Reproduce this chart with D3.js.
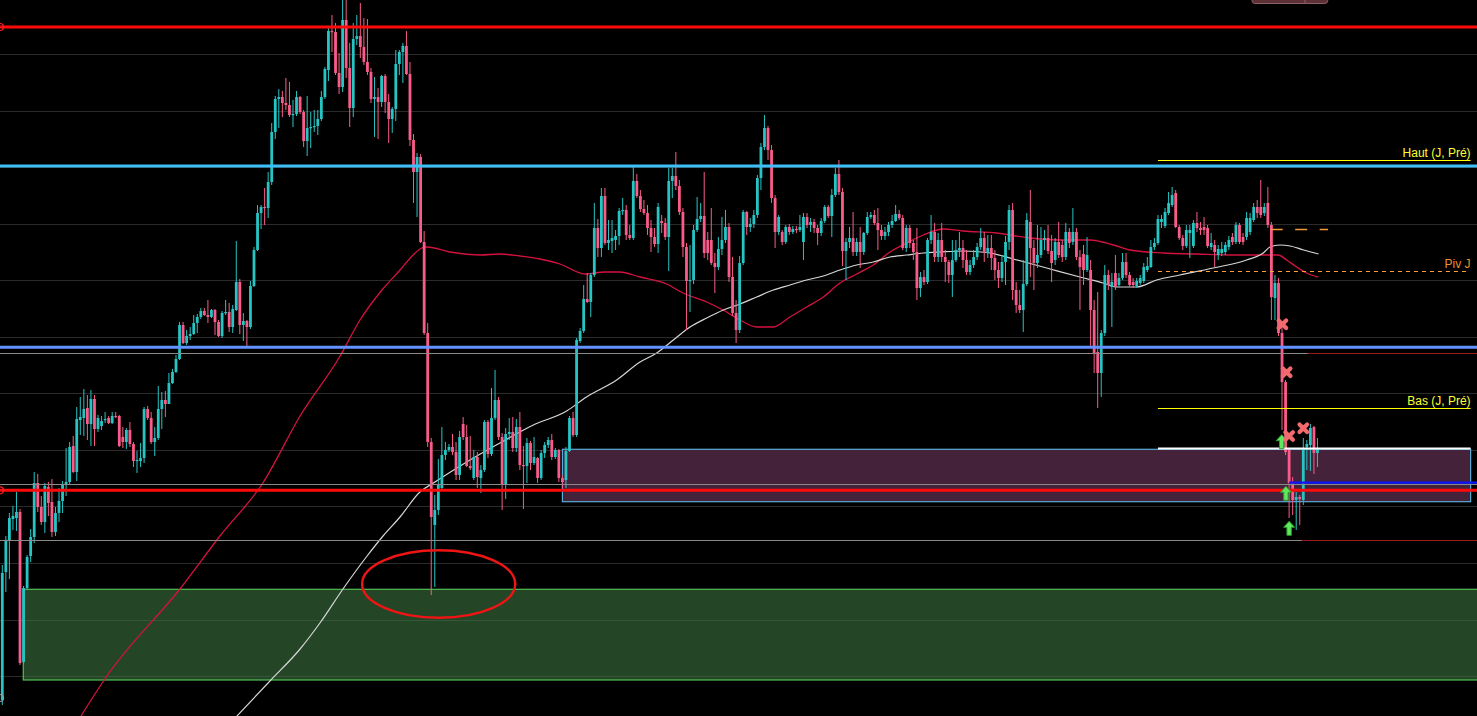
<!DOCTYPE html>
<html><head><meta charset="utf-8">
<script src="https://cdn.jsdelivr.net/npm/d3@7"></script>
<style>html,body{margin:0;padding:0;background:#000;overflow:hidden}</style>
</head><body><svg id="c" width="1477" height="716"></svg>
<script>
// ---------- DATA (price units, candle index units) ----------
const opens=[
300,428,460,481,482,488,338,412,444,463,
517,493,478,513,498,468,487,499,515,518,
554,528,580,582,592,576,601,571,574,580,
582,577,584,584,563,558,570,556,539,539,
542,591,582,558,562,591,600,596,617,628,
641,675,657,664,666,677,683,689,685,683,
690,678,664,687,688,673,690,718,675,679,
673,714,750,787,793,792,818,868,901,903,
897,895,885,886,903,888,859,872,873,874,
881,903,930,969,968,927,913,980,932,892,
961,964,953,938,928,901,903,898,924,898,
881,891,936,948,954,926,860,828,843,758,
667,558,475,490,512,545,550,553,548,525,
576,563,534,522,543,522,530,578,546,582,
600,563,516,566,568,552,573,535,534,557,
537,542,522,547,555,560,543,550,522,520,
549,582,565,659,669,701,698,725,772,752,
804,757,759,760,764,789,790,765,762,819,
804,791,787,772,763,756,779,777,763,819,
824,814,788,753,719,720,770,781,784,760,
760,737,733,751,760,773,723,687,670,737,
788,773,776,785,822,853,872,850,802,768,
768,758,773,768,771,770,758,783,775,778,
772,767,779,793,784,805,826,808,749,758,
762,748,758,748,767,783,785,777,770,764,
768,775,779,786,782,752,772,757,748,712,
723,718,760,768,743,760,743,738,725,740,
750,752,740,728,735,743,753,762,747,752,
742,730,722,738,758,790,710,695,690,716,
778,752,737,745,760,762,749,740,758,755,
743,768,758,768,743,746,730,730,690,648,
627,667,725,713,727,715,722,738,725,718,
714,717,719,730,733,753,757,778,774,787,
795,807,773,762,754,767,754,777,772,773,
772,753,755,745,747,748,753,763,758,775,
763,763,768,780,793,793,787,797,775,702,
717,667,618,550,517,500,503,500,553,555,573,547];
const highs=[
435,464,487,494,508,491,414,445,471,528,
526,504,517,518,521,493,512,519,552,558,
564,593,603,611,605,610,605,585,584,588,
584,588,588,585,573,572,578,558,549,557,
593,594,588,573,614,608,609,627,631,645,
678,678,670,673,685,686,692,692,700,691,
691,680,689,700,697,695,759,721,687,680,
719,753,795,795,812,828,877,904,911,909,
922,918,900,909,904,890,904,888,890,890,
909,933,972,985,977,947,1003,1003,957,977,
985,997,982,981,932,923,912,925,926,906,
893,950,950,957,969,938,866,847,846,769,
677,562,505,541,573,558,556,566,558,569,
583,575,564,550,548,535,580,580,612,630,
603,567,572,582,583,581,588,554,562,559,
563,543,550,558,563,566,552,551,525,553,
584,588,662,672,715,727,727,797,781,812,
812,780,780,770,792,802,795,775,833,826,
810,800,795,780,772,797,785,782,832,832,
848,820,792,757,755,775,803,797,828,768,
792,747,763,783,790,777,743,700,744,790,
789,782,790,825,857,885,874,855,805,785,
770,775,776,774,774,785,787,787,782,781,
775,782,795,795,811,832,840,812,762,773,
788,762,773,768,788,788,790,792,775,773,
778,785,795,790,785,775,775,760,772,728,
730,762,785,777,767,777,750,740,760,760,
768,760,750,740,750,757,772,768,765,765,
750,738,745,764,795,797,718,710,740,787,
810,760,775,773,770,775,765,762,778,760,
777,772,792,772,750,755,763,740,700,708,
670,735,730,727,745,727,747,747,728,722,
722,725,737,743,760,762,785,785,792,808,
813,810,775,765,775,775,780,788,778,783,
775,767,760,755,758,758,764,767,778,777,
767,788,787,797,800,820,797,813,778,725,
722,675,620,552,523,508,505,562,560,576,574,562];
const lows=[
295,408,421,470,469,335,336,410,438,457,
488,475,467,484,463,464,478,487,504,515,
527,519,565,564,560,554,554,568,570,577,
576,576,582,553,552,551,553,533,527,533,
537,580,556,544,560,571,583,596,616,627,
640,656,655,660,665,667,681,684,677,682,
665,663,662,685,668,667,689,666,659,653,
671,713,749,771,775,782,815,861,872,883,
890,883,873,884,886,853,844,852,868,865,
879,901,919,948,925,906,908,922,873,883,
955,942,935,925,897,863,861,893,887,857,
867,879,925,917,925,854,797,783,757,665,
553,405,413,485,510,540,548,545,520,520,
560,533,530,520,512,507,528,542,544,580,
560,490,501,560,548,548,530,491,517,530,
535,517,520,542,552,540,541,518,512,512,
548,563,563,657,667,697,683,723,743,743,
755,750,747,750,755,785,760,760,760,802,
788,785,765,748,753,747,767,760,729,802,
810,785,743,670,688,716,768,778,742,740,
735,707,730,745,757,718,684,657,667,735,
765,768,772,782,810,850,840,797,752,765,
755,756,765,766,767,768,740,772,768,767,
755,764,777,782,763,803,805,734,720,752,
744,744,732,745,765,781,775,750,760,760,
764,772,778,780,750,748,752,740,700,703,
715,716,756,738,738,738,718,717,703,738,
743,732,725,725,732,740,750,738,742,730,
720,712,718,715,750,700,687,687,668,714,
723,710,732,742,750,746,718,735,742,738,
740,752,755,740,690,715,728,653,627,592,
603,664,710,673,710,713,720,722,713,712,
712,715,717,728,732,750,755,772,772,785,
793,772,760,750,752,742,752,768,765,765,
752,750,733,740,744,745,750,755,756,756,
755,760,765,778,782,782,784,772,680,680,
664,570,545,482,485,470,475,495,530,529,526,533];
const closes=[
427,460,482,484,488,337,412,443,463,517,
493,478,514,497,468,487,499,515,518,553,
528,581,583,591,576,601,571,582,579,581,
577,584,583,554,558,570,556,539,540,542,
591,582,558,562,591,600,596,617,628,641,
675,657,664,666,677,683,689,685,683,690,
678,664,687,688,673,691,718,675,679,673,
714,750,787,793,792,818,868,901,903,897,
895,885,886,903,888,859,872,873,874,881,
903,931,969,968,927,913,980,932,892,961,
964,953,938,928,901,903,898,924,898,881,
891,936,948,954,926,860,828,843,758,667,
558,483,490,515,545,550,553,548,525,563,
563,534,532,543,523,530,578,546,582,600,
563,516,566,568,552,573,535,534,557,537,
543,522,547,555,560,543,550,522,518,549,
582,565,660,669,701,698,725,772,752,804,
757,760,762,764,789,790,765,762,819,804,
791,787,772,763,756,793,777,763,819,824,
814,788,753,719,720,770,781,784,747,747,
737,733,751,760,773,723,687,670,737,788,
773,776,785,822,853,872,850,802,768,783,
758,773,768,771,770,773,783,775,778,772,
767,779,793,784,805,826,808,749,758,762,
748,758,748,767,783,785,777,770,764,768,
775,779,786,782,752,772,757,748,712,723,
718,760,768,743,760,743,738,725,740,750,
752,740,728,735,743,753,762,747,752,742,
730,722,738,758,790,710,695,690,716,780,
752,737,745,760,762,749,737,758,745,743,
768,757,768,743,733,730,745,690,647,627,
667,725,715,718,713,722,738,725,715,715,
719,722,733,734,753,757,781,781,788,797,
805,773,762,754,770,770,777,772,770,770,
754,757,748,751,751,755,760,758,775,758,
758,782,782,793,787,785,793,775,703,717,
667,618,548,517,500,503,501,552,556,572,547,552];

// moving averages (candle index, price)
const maRedIdx=[22.2,29.5,50.1,61.4,73.5,84.0,95.3,100.9,107.1,112.2,115.9,118.3,119.8,126.3,134.8,140.4,146.0,151.7,157.3,164.4,170.0,174.2,179.9,187.4,192.0,198.7,203.3,208.1,212.8,217.5,222.2,226.9,231.6,236.3,241.0,245.7,250.4,255.1,259.8,265.4,271.1,280.5,289.9,299.3,306.8,313.4,318.1,327.5,336.9,346.3,359.9,362.3,365.1,367.9,371.2];
const maRedVal=[284,324,411,464,517,584,644,680,710,730,745,752,753,748,745,746,744,741,736,726,728,728,723,716,707,698,690,680,673,673,683,693,703,717,726,735,748,757,765,771,769,767,762,760,760,755,750,747,746,745,745,740,733,727,723];
const maWhiteIdx=[66.2,75.5,84.0,89.6,96.1,102.9,107.4,112.2,117.8,121.6,131.0,140.4,149.8,159.2,164.8,173.3,179.9,184.6,189.3,194.0,198.7,203.4,208.1,212.8,217.5,222.2,226.9,231.6,236.3,241.0,245.7,250.4,255.1,259.8,264.5,271.1,278.6,285.2,294.6,304.0,310.6,314.4,320.0,325.6,332.2,341.6,351.0,355.7,357.6,360.4,363.3,367.1,371.3];
const maWhiteVal=[284,319,351,377,411,444,464,483,508,517,538,557,575,589,603,620,638,647,660,673,682,690,696,703,710,715,720,724,730,735,738,743,745,747,748,749,747,741,732,723,717,713,713,720,725,732,740,747,753,755,754,750,746];

// grid and levels (prices)
const gridPrices=[946,889.4,832.9,776.3,719.8,663.2,606.7,550.1,493.6,437,380.5,323.9];
const majorLevels=[973,834,652.7,509.7];
const thinLevels=[646.7,516.5,459.7];
const thinLevelRedFrom=[368.3,null,366.6];
const pivotLabels=["Haut (J, Pré)","Piv J","Bas (J, Pré)"];
const pivotPrices=[840,728.7,591.7];
const pivotFrom=326.0, pivotTo=414.2;
const pivotDashPrice=770.7, pivotDashFrom=357.8, pivotDashTo=374.0;
const zoneTopLinePrice=551.5;
const blueLinePrice=517.3, blueLineFrom=363.0;
// zones
const zoneStart=[5.92,158.0], zoneEnd=[420,414.2], zoneLow=[320,498.3], zoneHigh=[410.7,550.7];
// ellipse annotation
const ellipseIdx=123.1, ellipseVal=416, ellipseHalfIdx=21.6, ellipseHalfVal=33.7;
// signals
const crossIdx=[361.1,362.3,363.0,367.0], crossVal=[675.7,627.7,564,571.7];
const arrowIdx=[360.9,362.1,363.0], arrowVal=[558.3,506.7,471.7];

// ---------- DRAW ----------
const W=1477,H=716;
const x=d3.scaleLinear().domain([0,416]).range([2.3,1477]);
const y=d3.scaleLinear().domain([284,1000]).range([716,0]);
const UP='#27c4c4', DN='#f95c8a';
const svg=d3.select('#c');
svg.append('rect').attr('width',W).attr('height',H).attr('fill','#000');
const crisp=v=>Math.round(v)+0.5;

svg.append('g').selectAll('line').data(gridPrices).join('line')
  .attr('x1',0).attr('x2',W).attr('y1',d=>crisp(y(d))).attr('y2',d=>crisp(y(d)))
  .attr('stroke','#2b2b2b').attr('stroke-width',1);

// zones
const zoneStyles=[{fill:'#3c7540',op:0.6,stroke:'#52c152'},{fill:'#44233a',op:1,stroke:'#58acd8'}];
svg.append('g').selectAll('rect').data(zoneStart.map((s,i)=>({s,e:zoneEnd[i],lo:zoneLow[i],hi:zoneHigh[i],st:zoneStyles[i]}))).join('rect')
  .attr('x',d=>x(d.s)).attr('width',d=>x(d.e)-x(d.s))
  .attr('y',d=>y(d.hi)).attr('height',d=>y(d.lo)-y(d.hi))
  .attr('fill',d=>d.st.fill).attr('fill-opacity',d=>d.st.op)
  .attr('stroke',d=>d.st.stroke).attr('stroke-width',1.2);

// moving averages
const lineGen=d3.line().x(d=>x(d[0])).y(d=>y(d[1])).curve(d3.curveMonotoneX);
svg.append('path').datum(maRedIdx.map((v,i)=>[v,maRedVal[i]]))
  .attr('d',lineGen).attr('fill','none').attr('stroke','#d4123e').attr('stroke-width',1.3);
svg.append('path').datum(maWhiteIdx.map((v,i)=>[v,maWhiteVal[i]]))
  .attr('d',lineGen).attr('fill','none').attr('stroke','#d6d6d6').attr('stroke-width',1.2);

// candles
const candles=opens.map((o,i)=>({i,o,h:highs[i],l:lows[i],c:closes[i]}));
const cg=svg.append('g');
cg.selectAll('line').data(candles).join('line')
  .attr('x1',d=>x(d.i)).attr('x2',d=>x(d.i))
  .attr('y1',d=>y(d.h)).attr('y2',d=>y(d.l))
  .attr('stroke',d=>d.c>=d.o?UP:DN).attr('stroke-width',1);
const bw=2.8;
cg.selectAll('rect').data(candles).join('rect')
  .attr('x',d=>x(d.i)-bw/2).attr('width',bw)
  .attr('y',d=>y(Math.max(d.o,d.c)))
  .attr('height',d=>Math.max(1.2,Math.abs(y(d.o)-y(d.c))))
  .attr('fill',d=>d.c>=d.o?UP:DN);

// thin gray levels
const lg=svg.append('g');
thinLevels.forEach((p,i)=>{
  const xr=thinLevelRedFrom[i];
  lg.append('line').attr('x1',0).attr('x2',xr===null?W:x(xr))
    .attr('y1',crisp(y(p))).attr('y2',crisp(y(p))).attr('stroke','#8a8a8a').attr('stroke-width',1);
  if(xr!==null) lg.append('line').attr('x1',x(xr)).attr('x2',W)
    .attr('y1',crisp(y(p))).attr('y2',crisp(y(p))).attr('stroke','#9a1c1c').attr('stroke-width',1);
});
// major levels
const majorColors=['#ff0a0a','#3dbff7','#6492ff','#ff0a0a'];
lg.selectAll('line.maj').data(majorLevels).join('line').attr('class','maj')
  .attr('x1',0).attr('x2',W).attr('y1',d=>y(d)).attr('y2',d=>y(d))
  .attr('stroke',(d,i)=>majorColors[i]).attr('stroke-width',3);
// left edge circles
[[973,'#ff2020'],[509.7,'#ff2020'],[302,'#999']].forEach(([p,c])=>{
  lg.append('circle').attr('cx',0).attr('cy',y(p)).attr('r',3.5).attr('fill','none').attr('stroke',c).attr('stroke-width',1.2);
});

// pivot lines
const pivotColors=['#ffff00','#ffa042','#ffff00'];
const pivotTextColors=['#ffff33','#e8922c','#ffff33'];
pivotPrices.forEach((p,i)=>{
  const l=lg.append('line').attr('x1',x(pivotFrom)).attr('x2',x(i===1?413.2:pivotTo))
    .attr('y1',crisp(y(p))).attr('y2',crisp(y(p))).attr('stroke',pivotColors[i]).attr('stroke-width',1);
  if(i===1) l.attr('stroke-dasharray','4,4');
  lg.append('text').attr('x',x(pivotTo)).attr('y',y(p)-3).attr('text-anchor','end')
    .attr('font-family','Liberation Sans, Arial, sans-serif').attr('font-size',12)
    .attr('fill',pivotTextColors[i]).text(pivotLabels[i]);
});
lg.append('line').attr('x1',x(pivotDashFrom)).attr('x2',x(pivotDashTo))
  .attr('y1',crisp(y(pivotDashPrice))).attr('y2',crisp(y(pivotDashPrice)))
  .attr('stroke','#f0983c').attr('stroke-width',1.3).attr('stroke-dasharray','12,12.5');
lg.append('line').attr('x1',x(pivotFrom)).attr('x2',x(pivotTo))
  .attr('y1',y(zoneTopLinePrice)).attr('y2',y(zoneTopLinePrice)).attr('stroke','#ffffff').attr('stroke-width',2);
lg.append('line').attr('x1',x(blueLineFrom)).attr('x2',W)
  .attr('y1',y(blueLinePrice)).attr('y2',y(blueLinePrice)).attr('stroke','#0a14ff').attr('stroke-width',2.2);

// ellipse
svg.append('ellipse').attr('cx',x(ellipseIdx)).attr('cy',y(ellipseVal))
  .attr('rx',x(ellipseIdx+ellipseHalfIdx)-x(ellipseIdx))
  .attr('ry',y(ellipseVal)-y(ellipseVal+ellipseHalfVal))
  .attr('fill','none').attr('stroke','#f01414').attr('stroke-width',2.4);

// signals
svg.append('g').selectAll('path').data(arrowIdx.map((v,i)=>[v,arrowVal[i]])).join('path')
  .attr('transform',d=>`translate(${x(d[0])},${y(d[1])})`)
  .attr('d','M0,-7L5.5,-1L2.2,-1L2.2,7L-2.2,7L-2.2,-1L-5.5,-1Z')
  .attr('fill','#5fe85f').attr('stroke','#2e9a2e').attr('stroke-width',1);
svg.append('g').selectAll('path').data(crossIdx.map((v,i)=>[v,crossVal[i]])).join('path')
  .attr('transform',d=>`translate(${x(d[0])},${y(d[1])})`)
  .attr('d','M-3.8,-3.8L3.8,3.8M3.8,-3.8L-3.8,3.8')
  .attr('stroke','#f26a6e').attr('stroke-width',4.2).attr('stroke-linecap','round').attr('fill','none');

// top button (UI)
const tb=svg.append('g');
tb.append('rect').attr('x',x(352.5)).attr('y',-7).attr('width',x(373.9)-x(352.5)).attr('height',10.5)
  .attr('rx',3).attr('fill','#5c3237').attr('stroke','#8e5d62').attr('stroke-width',1);
tb.append('line').attr('x1',x(367.5)).attr('x2',x(367.5)).attr('y1',-2).attr('y2',3.5).attr('stroke','#8e5d62');
</script></body></html>
